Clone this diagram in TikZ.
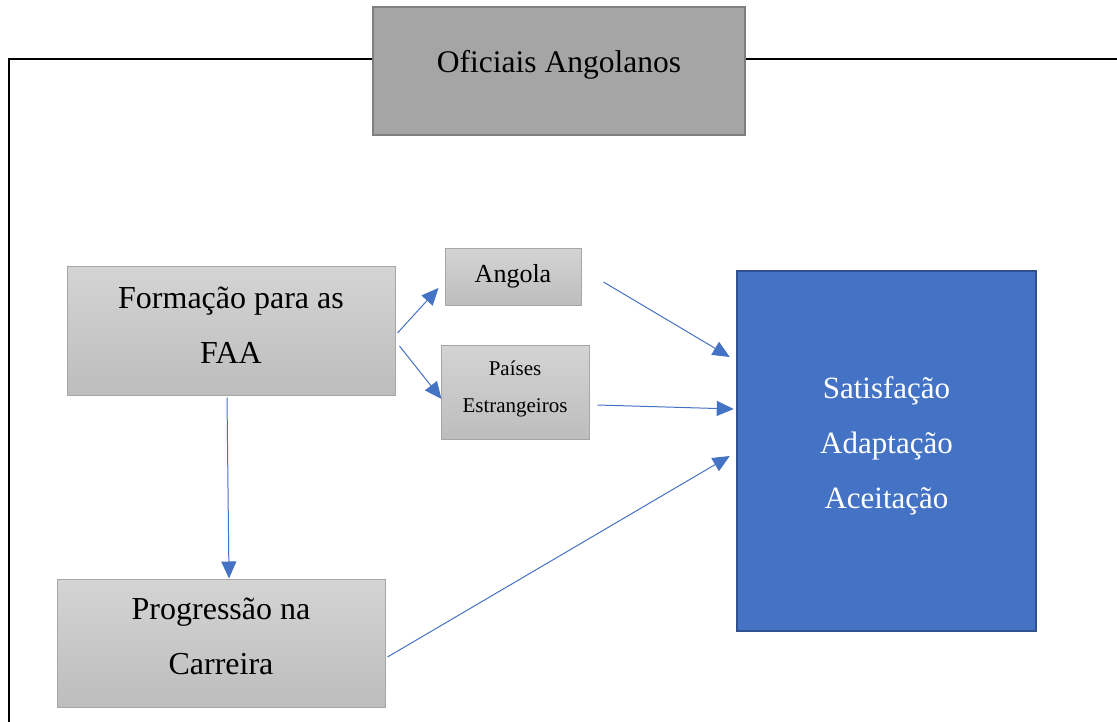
\documentclass[tikz,border=0pt]{standalone}
\usepackage{fontspec}
\setmainfont{Liberation Serif}
\usetikzlibrary{arrows.meta}
\definecolor{boxblue}{HTML}{4472C4}
\definecolor{boxblueline}{HTML}{2F528F}
\definecolor{topgray}{HTML}{A5A5A5}
\definecolor{topgrayline}{HTML}{7F7F7F}
\definecolor{gtop}{HTML}{D4D4D4}
\definecolor{gbot}{HTML}{BDBDBD}
\definecolor{gline}{HTML}{A6A6A6}
\tikzset{
  gbox/.style={rectangle, draw=gline, line width=1pt, top color=gtop, bottom color=gbot, inner sep=0pt},
  txt/.style={align=center, inner sep=0pt, anchor=base},
  conn/.style={draw=boxblue, line width=1pt, -{Triangle[length=17pt,width=15pt]}},
}
\begin{document}
\begin{tikzpicture}[x=1pt,y=-1pt]
\useasboundingbox (0,0) rectangle (1117,722);
\clip (0,0) rectangle (1117,722);
% outer frame
\draw[line width=2pt, black] (1130,59) -- (9,59) -- (9,740);
% top title box
\node[rectangle, draw=topgrayline, fill=topgray, line width=2.5pt, minimum width=372pt, minimum height=128pt, inner sep=0pt] (of) at (559,71) {};
\node[txt, font=\fontsize{31.5}{40}\selectfont] (oft) at (559,73) {Oficiais Angolanos};
% boxes
\node[gbox, minimum width=328pt, minimum height=128pt] (fa) at (231,331) {};
\node[txt, font=\fontsize{32}{55}\selectfont] (fat) at (231,363) {Formação para as\\FAA};
\node[gbox, minimum width=136pt, minimum height=56pt] (ang) at (513,277) {};
\node[txt, font=\fontsize{26}{30}\selectfont] (angt) at (513,283) {Angola};
\node[gbox, minimum width=148pt, minimum height=94pt] (pe) at (515,392) {};
\node[txt, font=\fontsize{21}{37}\selectfont] (pet) at (515,412) {Países\\Estrangeiros};
\node[gbox, minimum width=328pt, minimum height=128pt] (pc) at (221,643) {};
\node[txt, font=\fontsize{32}{55}\selectfont] (pct) at (221,674) {Progressão na\\Carreira};
\node[rectangle, draw=boxblueline, fill=boxblue, line width=2.5pt, minimum width=299pt, minimum height=360pt, inner sep=0pt] (bl) at (886.5,451) {};
\node[txt, text=white, font=\fontsize{31}{55}\selectfont] (blt) at (886.5,508) {Satisfação\\Adaptação\\Aceitação};
% connectors
\draw[conn] ([xshift=2pt,yshift=-2pt]fa.east) -- ([xshift=-6pt,yshift=-11pt]ang.west);
\draw[conn] ([xshift=4pt,yshift=-15pt]fa.east) -- ([xshift=1pt,yshift=-7pt]pe.west);
\draw[conn] ([xshift=-4pt,yshift=-2pt]fa.south) -- ([xshift=8pt]pc.north);
\draw[conn] ([xshift=22pt,yshift=-5pt]ang.east) -- ([xshift=-6pt,yshift=94pt]bl.west);
\draw[conn] ([xshift=8pt,yshift=-13pt]pe.east) -- ([xshift=-2pt,yshift=42pt]bl.west);
\draw[conn] ([xshift=2pt,yshift=-14pt]pc.east) -- ([xshift=-6pt,yshift=-5pt]bl.west);
\end{tikzpicture}
\end{document}
